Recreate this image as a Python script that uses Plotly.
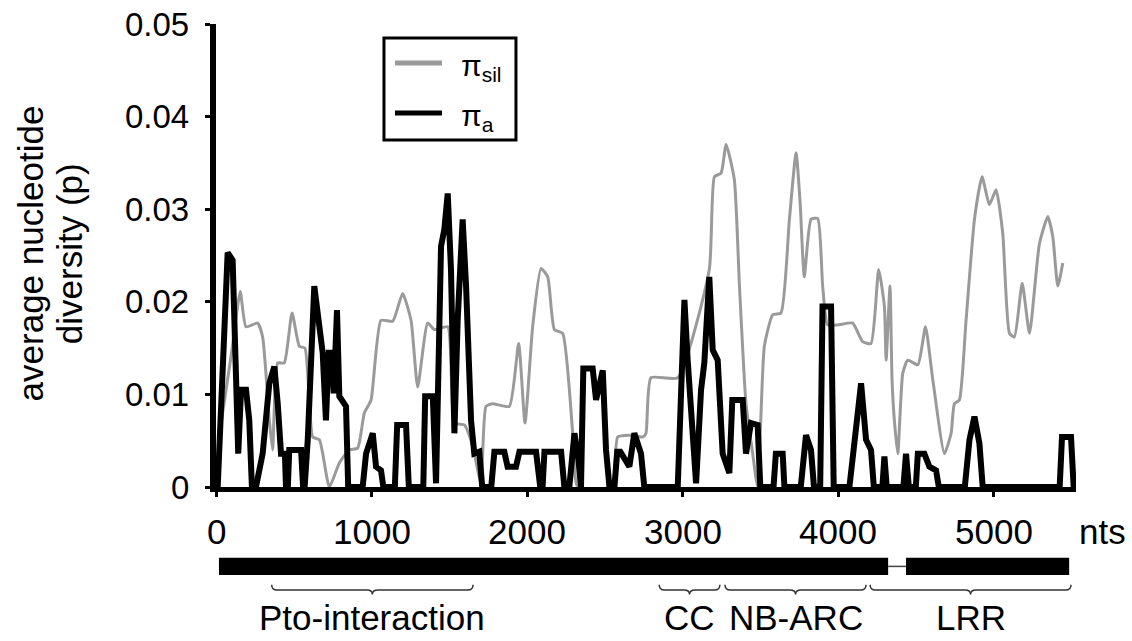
import plotly.graph_objects as go

# ---- data ----
sil_pos = [25, 100, 156, 193, 268, 300, 343, 364, 397, 439, 489, 536, 572, 622, 665, 729, 793, 857, 911, 954,
           997, 1061, 1136, 1200, 1254, 1297, 1361, 1404, 1490, 1533, 1597, 1651, 1704, 1736, 1779, 1886, 1946,
           1987, 2036, 2090, 2133, 2176, 2229, 2294, 2326, 2540, 2560, 2583, 2658, 2744, 2765, 2797, 2969, 3172,
           3205, 3248, 3280, 3333, 3366, 3408, 3451, 3483, 3526, 3580, 3633, 3687, 3730, 3756, 3783, 3826, 3869,
           3901, 3933, 3998, 4094, 4158, 4212, 4261, 4298, 4309, 4334, 4347, 4362, 4384, 4416, 4448, 4513, 4562,
           4609, 4684, 4727, 4748, 4780, 4823, 4877, 4926, 4973, 5016, 5059, 5102, 5134, 5184, 5231, 5295, 5349,
           5381, 5413, 5445]
sil_val = [0.0060, 0.0145, 0.0211, 0.0173, 0.0177, 0.0162, 0.0072, 0.0040, 0.0134, 0.0134, 0.0188, 0.0152,
           0.0150, 0.0054, 0.0051, 0.0000, 0.0026, 0.0040, 0.0042, 0.0080, 0.0094, 0.0180, 0.0179, 0.0209,
           0.0180, 0.0108, 0.0177, 0.0170, 0.0173, 0.0069, 0.0067, 0.0044, 0.0004, 0.0087, 0.0090, 0.0087,
           0.0155, 0.0069, 0.0173, 0.0236, 0.0227, 0.0170, 0.0166, 0.0058, 0.0000, 0.0000, 0.0010, 0.0054,
           0.0056, 0.0054, 0.0058, 0.0118, 0.0118, 0.0235, 0.0335, 0.0339, 0.0370, 0.0332, 0.0217, 0.0090,
           0.0036, 0.0000, 0.0152, 0.0186, 0.0188, 0.0289, 0.0361, 0.0307, 0.0227, 0.0289, 0.0290, 0.0217,
           0.0175, 0.0175, 0.0177, 0.0157, 0.0155, 0.0235, 0.0195, 0.0137, 0.0217, 0.0116, 0.0072, 0.0036,
           0.0123, 0.0137, 0.0132, 0.0173, 0.0116, 0.0036, 0.0058, 0.0090, 0.0094, 0.0180, 0.0289, 0.0335,
           0.0305, 0.0321, 0.0274, 0.0166, 0.0162, 0.0220, 0.0166, 0.0263, 0.0292, 0.0270, 0.0217, 0.0242]

a_pos = [11, 53, 75, 107, 129, 143, 161, 193, 214, 231, 257, 300, 343, 375, 397, 418, 443, 450, 462, 471, 547,
         560, 570, 590, 632, 665, 686, 707, 725, 746, 757, 778, 793, 836, 850, 943, 965, 1008, 1029, 1061, 1076,
         1150, 1165, 1222, 1240, 1333, 1345, 1394, 1415, 1447, 1468, 1490, 1511, 1533, 1554, 1586, 1608, 1640,
         1661, 1693, 1712, 1770, 1790, 1854, 1875, 1929, 1951, 2058, 2085, 2100, 2112, 2219, 2240, 2272, 2305,
         2330, 2347, 2362, 2422, 2444, 2487, 2508, 2530, 2562, 2580, 2600, 2658, 2690, 2733, 2754, 2969, 3012,
         3033, 3087, 3119, 3140, 3172, 3194, 3226, 3258, 3301, 3320, 3387, 3408, 3440, 3483, 3500, 3585, 3600,
         3644, 3655, 3760, 3794, 3826, 3845, 3885, 3900, 3955, 3972, 4073, 4116, 4148, 4180, 4212, 4230, 4285,
         4298, 4313, 4420, 4437, 4455, 4500, 4513, 4555, 4587, 4630, 4648, 4815, 4845, 4877, 4909, 4930, 5425,
         5440, 5498, 5515]
a_val = [0.0, 0.0195, 0.0253, 0.0245, 0.0108, 0.0036, 0.0105, 0.0105, 0.0072, 0.0, 0.0, 0.0036, 0.0112, 0.0130,
         0.0090, 0.0036, 0.0036, 0.0, 0.0, 0.0040, 0.0040, 0.0, 0.0, 0.0051, 0.0217, 0.0166, 0.0145, 0.0072,
         0.0145, 0.0145, 0.0101, 0.0191, 0.0098, 0.0087, 0.0, 0.0, 0.0036, 0.0058, 0.0022, 0.0018, 0.0, 0.0,
         0.0067, 0.0067, 0.0, 0.0, 0.0098, 0.0098, 0.0004, 0.0260, 0.0278, 0.0317, 0.0235, 0.0058, 0.0180,
         0.0289, 0.0217, 0.0072, 0.0036, 0.0038, 0.0, 0.0, 0.0038, 0.0038, 0.0022, 0.0022, 0.0038, 0.0038, 0.0,
         0.0, 0.0038, 0.0038, 0.0, 0.0, 0.0058, 0.0030, 0.0, 0.0128, 0.0128, 0.0094, 0.0126, 0.0040, 0.0, 0.0,
         0.0038, 0.0038, 0.0022, 0.0058, 0.0036, 0.0, 0.0, 0.0202, 0.0137, 0.0004, 0.0105, 0.0134, 0.0227,
         0.0148, 0.0137, 0.0036, 0.0015, 0.0094, 0.0094, 0.0036, 0.0069, 0.0067, 0.0, 0.0, 0.0036, 0.0036, 0.0,
         0.0, 0.0056, 0.0040, 0.0, 0.0, 0.0195, 0.0195, 0.0, 0.0, 0.0072, 0.0112, 0.0051, 0.0040, 0.0, 0.0,
         0.0033, 0.0, 0.0, 0.0036, 0.0, 0.0, 0.0036, 0.0036, 0.0022, 0.0018, 0.0, 0.0, 0.0051, 0.0076, 0.0047,
         0.0, 0.0, 0.0054, 0.0054, 0.0]

x_ticks = [0, 1000, 2000, 3000, 4000, 5000]
x_tick_labels = ["0", "1000", "2000", "3000", "4000", "5000"]
y_ticks = [0, 0.01, 0.02, 0.03, 0.04, 0.05]
y_tick_labels = ["0", "0.01", "0.02", "0.03", "0.04", "0.05"]

series_names = ["π<sub>sil</sub>", "π<sub>a</sub>"]
series_colors = ["#9a9a9a", "black"]
series_widths = [3, 6]

exon_starts = [19, 4437]
exon_ends = [4322, 5486]
domain_names = ["Pto-interaction", "CC", "NB-ARC", "LRR"]
domain_starts = [358, 2850, 3273, 4206]
domain_ends = [1653, 3240, 4180, 5498]

FONT = "Liberation Sans, Arial, Helvetica, sans-serif"

fig = go.Figure()
fig.add_trace(go.Scatter(x=sil_pos, y=sil_val, mode="lines", name=series_names[0], showlegend=False,
                         line=dict(color=series_colors[0], width=series_widths[0], shape="spline", smoothing=0.5)))
fig.add_trace(go.Scatter(x=a_pos, y=a_val, mode="lines", name=series_names[1], showlegend=False,
                         line=dict(color=series_colors[1], width=series_widths[1])))

# tick labels placed on the axes' own scales
for v, t in zip(x_ticks, x_tick_labels):
    fig.add_annotation(x=v, y=-0.096, xref="x", yref="paper", text=t, showarrow=False,
                       font=dict(family=FONT, size=35, color="black"), xanchor="center", yanchor="middle")
for v, t in zip(y_ticks, y_tick_labels):
    fig.add_annotation(x=-0.029, y=v, xref="paper", yref="y", text=t, showarrow=False,
                       font=dict(family=FONT, size=33, color="black"), xanchor="right", yanchor="middle")

# legend box (drawn in paper space)
fig.add_shape(type="rect", xref="paper", yref="paper", x0=0.1953, x1=0.3488, y0=0.7495, y1=0.9698,
              line=dict(color="black", width=3), fillcolor="white", layer="above")
leg_y = [0.916, 0.808]
for name, col, yy in zip(series_names, series_colors, leg_y):
    fig.add_shape(type="line", xref="paper", yref="paper", x0=0.2081, x1=0.2628, y0=yy, y1=yy,
                  line=dict(color=col, width=5), layer="above")
    fig.add_annotation(x=0.2825, y=yy - 0.010, xref="paper", yref="paper", text=name, showarrow=False,
                       font=dict(family=FONT, size=30, color="black"), xanchor="left", yanchor="middle")

# gene structure below the axis
bar_top, bar_bot = -0.153, -0.190
bar_mid = (bar_top + bar_bot) / 2
for s, e in zip(exon_starts, exon_ends):
    fig.add_shape(type="rect", xref="x", yref="paper", x0=s, x1=e, y0=bar_bot, y1=bar_top,
                  fillcolor="black", line=dict(width=0))
for e, s in zip(exon_ends[:-1], exon_starts[1:]):
    fig.add_shape(type="line", xref="x", yref="paper", x0=e, x1=s, y0=bar_mid, y1=bar_mid,
                  line=dict(color="#444444", width=1.5))

yt, ym, yb = -0.211, -0.2225, -0.232
d = 35
for name, s, e in zip(domain_names, domain_starts, domain_ends):
    m = (s + e) / 2
    path = (f"M{s},{yt} Q{s},{ym} {s+d},{ym} L{m-d},{ym} Q{m},{ym} {m},{yb} "
            f"Q{m},{ym} {m+d},{ym} L{e-d},{ym} Q{e},{ym} {e},{yt}")
    fig.add_shape(type="path", xref="x", yref="paper", path=path,
                  line=dict(color="#333333", width=1.5))
    fig.add_annotation(x=m, y=-0.3285, xref="x", yref="paper", text=name, showarrow=False,
                       font=dict(family=FONT, size=35, color="black"), xanchor="center", yanchor="bottom")

fig.add_annotation(x=1.031, y=-0.096, xref="paper", yref="paper", text="nts", showarrow=False,
                   font=dict(family=FONT, size=35, color="black"), xanchor="center", yanchor="middle")

fig.add_annotation(x=-0.216, y=0.505, xref="paper", yref="paper", text="average nucleotide",
                   textangle=-90, showarrow=False, font=dict(family=FONT, size=35, color="black"),
                   xanchor="center", yanchor="middle")
fig.add_annotation(x=-0.171, y=0.505, xref="paper", yref="paper", text="diversity (p)",
                   textangle=-90, showarrow=False, font=dict(family=FONT, size=35, color="black"),
                   xanchor="center", yanchor="middle")

fig.update_layout(
    width=1132, height=641,
    margin=dict(l=216, r=56, t=24, b=154),
    paper_bgcolor="white", plot_bgcolor="white",
    showlegend=False,
    xaxis=dict(range=[0, 5530], showgrid=False, zeroline=False, showline=True, linecolor="black",
               linewidth=5, ticks="outside", ticklen=5, tickwidth=3, tickcolor="black",
               tickvals=x_ticks, showticklabels=False),
    yaxis=dict(range=[0, 0.05], showgrid=False, zeroline=False, showline=True, linecolor="black",
               linewidth=6, ticks="outside", ticklen=5, tickwidth=3, tickcolor="black",
               tickvals=y_ticks, showticklabels=False),
)

fig.write_html("out.html")
